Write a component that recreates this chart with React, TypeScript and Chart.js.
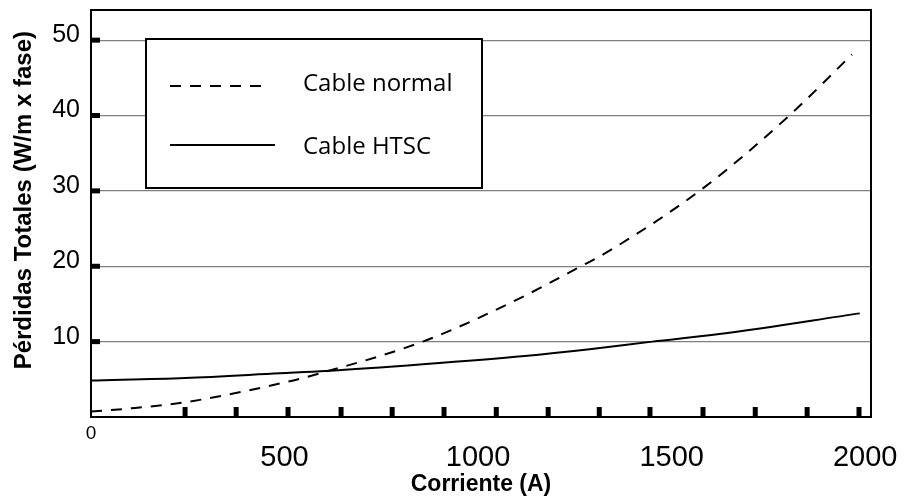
import React, { useEffect, useRef } from "react";
import { Chart, registerables } from "chart.js";

Chart.register(...registerables);

// ---- data ----
const seriesLabels = ["Cable normal", "Cable HTSC"];
const currentNormal = [0, 114, 243, 514, 599, 857, 1086, 1262, 1331, 1585, 1804, 1966];
const lossNormal = [0.72, 1.2, 1.95, 4.75, 5.9, 10.0, 15.2, 19.9, 21.8, 30.5, 40.0, 48.1];
const currentHTSC = [0, 243, 488, 606, 857, 1120, 1288, 1450, 1623, 1986];
const lossHTSC = [4.83, 5.18, 5.8, 6.1, 7.0, 8.1, 9.0, 10.0, 11.0, 13.75];

const xOriginTick = [0];
const xTickValues = [500, 1000, 1500, 2000];
const xMinorTicks = [243, 375, 509, 646, 778, 912, 1047, 1181, 1313, 1444, 1581, 1716, 1850, 1984];
const yTickValues = [10, 20, 30, 40, 50];
const xRange = [0, 2015];
const yRange = [0, 54];

const SANS = "'Liberation Sans', Arial, Helvetica, sans-serif";
const LEGEND_FONT = "'Open Sans', 'Noto Sans', sans-serif";

const framePlugin = {
  id: "framePlugin",
  afterDatasetsDraw(chart: any) {
    const { ctx, chartArea: a, scales } = chart;
    const xs = scales.x;
    const ys = scales.y;
    ctx.save();
    ctx.fillStyle = "#000";
    // minor tick marks on x axis (inside)
    xMinorTicks.forEach((v) => {
      const px = xs.getPixelForValue(v);
      ctx.fillRect(px - 2.5, a.bottom - 10, 5, 10);
    });
    // tick marks on y axis (inside)
    yTickValues.forEach((v) => {
      const py = ys.getPixelForValue(v);
      ctx.fillRect(a.left, py - 2.5, 9, 5);
    });
    // frame
    ctx.strokeStyle = "#000";
    ctx.lineWidth = 2;
    ctx.strokeRect(a.left, a.top, a.right - a.left, a.bottom - a.top);

    // legend box
    const bx = a.left + 55;
    const by = a.top + 29;
    const bw = 336;
    const bh = 149;
    ctx.fillStyle = "#fff";
    ctx.fillRect(bx, by, bw, bh);
    ctx.lineWidth = 2;
    ctx.strokeRect(bx, by, bw, bh);
    const rowsLine = [47, 106];
    const rowsText = [45, 108];
    chart.data.datasets.forEach((ds: any, i: number) => {
      const ly = by + rowsLine[i];
      const dashed = ds.borderDash && ds.borderDash.length;
      const len = dashed ? 96 : 105;
      ctx.save();
      ctx.strokeStyle = ds.borderColor;
      ctx.lineWidth = ds.borderWidth;
      ctx.setLineDash(ds.borderDash || []);
      ctx.beginPath();
      ctx.moveTo(bx + 24, ly);
      ctx.lineTo(bx + 24 + len, ly);
      ctx.stroke();
      ctx.restore();
      ctx.fillStyle = "#000";
      ctx.font = `24px ${LEGEND_FONT}`;
      ctx.textAlign = "left";
      ctx.textBaseline = "middle";
      ctx.fillText(ds.label, bx + 157, by + rowsText[i]);
    });
    ctx.restore();
  },
};

const plainNumber = (v: any) => String(v);

export default function App() {
  const ref = useRef<HTMLCanvasElement | null>(null);

  useEffect(() => {
    if (!ref.current) return;
    const chart = new Chart(ref.current, {
      type: "line",
      data: {
        datasets: [
          {
            label: seriesLabels[0],
            data: currentNormal.map((x, i) => ({ x, y: lossNormal[i] })),
            borderColor: "#000",
            borderWidth: 2,
            borderDash: [11, 9],
            pointRadius: 0,
            fill: false,
            cubicInterpolationMode: "monotone",
          },
          {
            label: seriesLabels[1],
            data: currentHTSC.map((x, i) => ({ x, y: lossHTSC[i] })),
            borderColor: "#000",
            borderWidth: 2,
            pointRadius: 0,
            fill: false,
            cubicInterpolationMode: "monotone",
          },
        ],
      },
      options: {
        responsive: false,
        animation: false,
        layout: { padding: { top: 10, right: 33, bottom: 0, left: 0 } },
        plugins: {
          legend: { display: false },
          tooltip: { enabled: false },
        },
        scales: {
          x0: {
            type: "linear",
            position: "bottom",
            weight: 0,
            min: xRange[0],
            max: xRange[1],
            afterBuildTicks: (s: any) => {
              s.ticks = xOriginTick.map((v) => ({ value: v }));
            },
            afterFit: (s: any) => {
              s.height = 24;
            },
            grid: { display: false, drawTicks: false },
            border: { display: false },
            ticks: {
              color: "#000",
              padding: 5,
              maxRotation: 0,
              autoSkip: false,
              callback: plainNumber,
              font: { family: SANS, size: 19 },
            },
          },
          x: {
            type: "linear",
            position: "bottom",
            weight: 1,
            min: xRange[0],
            max: xRange[1],
            afterBuildTicks: (s: any) => {
              s.ticks = xTickValues.map((v) => ({ value: v }));
            },
            afterFit: (s: any) => {
              s.height = 61;
            },
            grid: { display: false, drawTicks: false },
            border: { display: false },
            ticks: {
              color: "#000",
              padding: 0,
              maxRotation: 0,
              autoSkip: false,
              callback: plainNumber,
              font: { family: SANS, size: 29 },
            },
            title: {
              display: true,
              text: "Corriente (A)",
              color: "#000",
              padding: { top: 0, bottom: 4 },
              font: { family: SANS, size: 23, weight: "bold" },
            },
          },
          y: {
            type: "linear",
            position: "left",
            min: yRange[0],
            max: yRange[1],
            afterBuildTicks: (s: any) => {
              s.ticks = yTickValues.map((v) => ({ value: v }));
            },
            afterFit: (s: any) => {
              s.width = 91;
              s.paddingTop = 0;
              s.paddingBottom = 0;
            },
            grid: { color: "#808080", lineWidth: 1.2, drawTicks: false },
            border: { display: false },
            ticks: {
              color: "#000",
              padding: 11,
              labelOffset: -5,
              callback: plainNumber,
              font: { family: SANS, size: 25 },
            },
            title: {
              display: true,
              text: "    Pérdidas Totales (W/m x fase)",
              color: "#000",
              padding: { top: 10, bottom: 0 },
              font: { family: SANS, size: 24, weight: "bold" },
            },
          },
        },
      } as any,
      plugins: [framePlugin],
    });
    return () => chart.destroy();
  }, []);

  return (
    <div style={{ position: "absolute", left: 0, top: 0, width: 904, height: 502, background: "#fff" }}>
      <canvas ref={ref} width={904} height={502} style={{ display: "block" }} />
    </div>
  );
}
